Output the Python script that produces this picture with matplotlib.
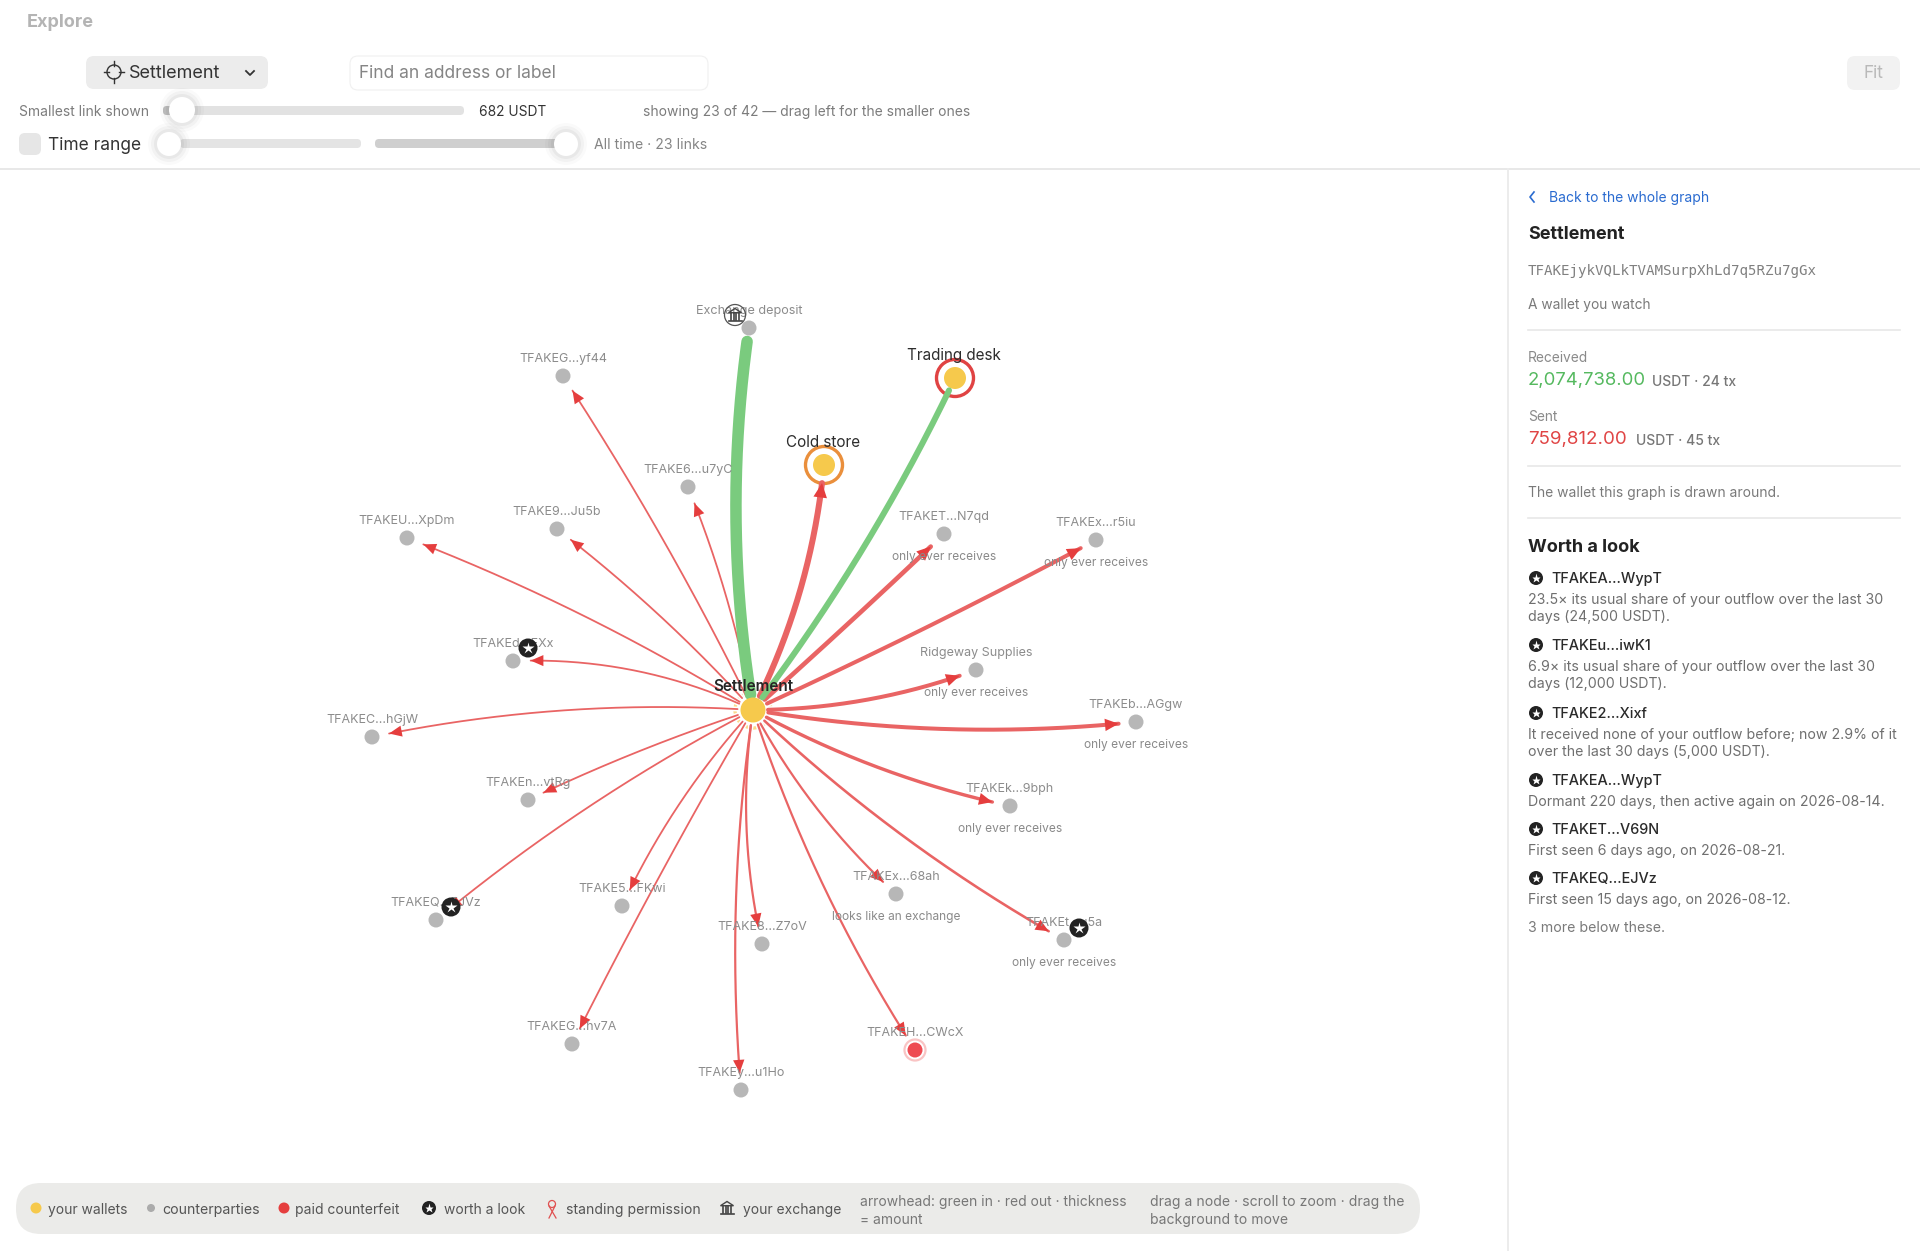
import numpy as np
import matplotlib
matplotlib.use("Agg")
import matplotlib.pyplot as plt
from matplotlib.patches import Circle, FancyBboxPatch, Polygon

plt.rcParams["font.family"] = ["Inter", "DejaVu Sans"]

# Graph data, positions in screen pixels
center = (753, 710)
node_names = ["TFAKEG...yf44", "TFAKE6...u7yC", "TFAKE9...Ju5b", "TFAKEU...XpDm", "TFAKET...N7qd",
              "TFAKEx...r5iu", "TFAKEd...EXx", "Ridgeway Supplies", "TFAKEb...AGgw", "TFAKEC...hGjW",
              "TFAKEn...vtRg", "TFAKEk...9bph", "TFAKEx...68ah", "TFAKEQ...EJVz", "TFAKE5...FKwi",
              "TFAKEt...u5a", "TFAKE8...Z7oV", "TFAKEG...hv7A", "TFAKEH...CWcX", "TFAKEy...u1Ho"]
node_x = [563, 688, 557, 407, 944, 1096, 513, 976, 1136, 372, 528, 1010, 896, 436, 622, 1064, 762, 572, 915, 741]
node_y = [376, 487, 529, 538, 534, 540, 661, 670, 722, 737, 800, 806, 894, 920, 906, 940, 944, 1044, 1050, 1090]
link_width = [1.8, 1.8, 1.8, 1.8, 4.6, 4.0, 1.8, 4.0, 4.0, 1.8, 1.8, 3.4, 2.2, 1.8, 1.8, 2.6, 2.2, 1.8, 2.2, 2.2]
link_sag = [-6, -6, -6, -9, -1, -3, -15, -10, -13, -13, -4, -10, -10, -10, -9, -12, -11, -3, -12, -11]
sub_labels = {"TFAKET...N7qd": "only ever receives", "TFAKEx...r5iu": "only ever receives",
              "Ridgeway Supplies": "only ever receives", "TFAKEb...AGgw": "only ever receives",
              "TFAKEk...9bph": "only ever receives", "TFAKEt...u5a": "only ever receives",
              "TFAKEx...68ah": "looks like an exchange"}
star_nodes = [(528, 648), (451, 907), (1079, 928)]

exchange_node = (749, 328)
trading_desk = (955, 378)
cold_store = (824, 465)

RED = "#e53e3e"
LINE_RED = "#e96464"
GREEN = "#7acb7e"
GREY = "#b7b7b7"
YELLOW = "#f6c94c"
LABEL = "#8c8c8c"

fig = plt.figure(figsize=(19.2, 12.51), dpi=100)
ax = fig.add_axes([0, 0, 1, 1])
ax.set_xlim(0, 1920)
ax.set_ylim(1251, 0)
ax.axis("off")


def txt(x, y, s, size=9.5, color="#333333", ha="left", weight="normal", z=6, **kw):
    ax.text(x, y + 1.8, s, fontsize=size, color=color, ha=ha, va="center", fontweight=weight, zorder=z, **kw)


def box(x0, y0, x1, y1, r, fc, ec="none", z=2):
    ax.add_patch(FancyBboxPatch((x0, y0), x1 - x0, y1 - y0, boxstyle=f"round,pad=0,rounding_size={r}",
                                fc=fc, ec=ec, lw=0.8, zorder=z))


def thumb(x, y, r=13):
    for k, a in zip([9, 6, 3], [0.02, 0.03, 0.04]):
        ax.add_patch(Circle((x, y), r + k, fc="#000000", ec="none", alpha=a, zorder=3))
    ax.add_patch(Circle((x, y), r, fc="white", ec="none", zorder=4))


def bank_icon(x, y, s, color="#444444", z=7):
    ax.add_patch(Polygon([(x - s, y - 0.35 * s), (x, y - s), (x + s, y - 0.35 * s)], closed=True,
                         fc="none", ec=color, lw=1.0, zorder=z))
    for dx in [-0.65, -0.22, 0.22, 0.65]:
        ax.plot([x + dx * s] * 2, [y - 0.25 * s, y + 0.7 * s], color=color, lw=1.2, zorder=z)
    ax.plot([x - s, x + s], [y + 0.9 * s] * 2, color=color, lw=1.2, zorder=z)


def star_badge(x, y, r=9.5, z=8):
    ax.add_patch(Circle((x, y), r, fc="#222222", ec="none", zorder=z))
    ax.plot([x], [y], marker="*", ms=r * 0.95, color="white", mec="none", zorder=z + 0.5)


def draw_link(a, b, sag, width, color, head=True, z=3.5):
    a = np.array(a, float)
    b = np.array(b, float)
    d = b - a
    L = np.hypot(*d)
    normal = np.array([d[1], -d[0]]) / L
    ctrl = (a + b) / 2 + 2 * sag * normal
    t = np.linspace(0, 1, 200)[:, None]
    pts = (1 - t) ** 2 * a + 2 * t * (1 - t) * ctrl + t ** 2 * b
    da = np.hypot(*(pts - a).T)
    db = np.hypot(*(pts - b).T)
    gap = 17 if head else 13
    pts = pts[(da > 15) & (db > gap)]
    # white cut through the ring round the centre node
    ax.plot(pts[:6, 0], pts[:6, 1], color="white", lw=(width + 3) * 0.72, zorder=3.2, solid_capstyle="butt")
    ax.plot(pts[:, 0], pts[:, 1], color=color, lw=width * 0.72, zorder=z, solid_capstyle="round")
    if head:
        tip = pts[-1]
        u = (pts[-1] - pts[-6]) / np.hypot(*(pts[-1] - pts[-6]))
        n = np.array([-u[1], u[0]])
        hl = 12 + 0.4 * width
        hw = 5 + 0.3 * width
        ax.add_patch(Polygon([tip, tip - hl * u + hw * n, tip - hl * u - hw * n], closed=True,
                             fc=RED, ec="none", zorder=z + 0.2))


# ---------------------- Top bar --------------------------
ax.plot([0, 1920], [169, 169], color="#e8e8e8", lw=1.4, zorder=1)
ax.plot([1508, 1508], [169, 1251], color="#ececec", lw=1.4, zorder=1)

txt(27, 21, "Explore", 13, "#b4b4b4", weight="bold")
box(86, 56, 268, 89, 8, "#ececec")
ax.add_patch(Circle((114, 72), 7, fc="none", ec="#333333", lw=1.0, zorder=5))
for tick in [(61, 66), (78, 83)]:
    ax.plot([114, 114], tick, color="#333333", lw=1.0, zorder=5)
for tick in [(104, 109), (119, 124)]:
    ax.plot(tick, [72, 72], color="#333333", lw=1.0, zorder=5)
txt(129, 72, "Settlement", 13)
ax.plot([246, 250, 254], [71, 75, 71], color="#333333", lw=1.3, zorder=5)
box(350, 56, 708, 90, 8, "white", "#f0f0f0")
txt(359, 72, "Find an address or label", 12.5, "#858585")
box(1847, 56, 1900, 90, 8, "#f2f2f2")
txt(1873, 72, "Fit", 12.5, "#b9b9b9", ha="center")

txt(19, 110, "Smallest link shown", 10, "#7c7c7c")
box(163, 106, 464, 115, 4, "#e2e2e2")
box(163, 106, 178, 115, 4, "#c4c4c4")
thumb(182, 110)
txt(479, 110, "682 USDT", 9.9, "#333333")
txt(643, 110, "showing 23 of 42 \u2014 drag left for the smaller ones", 10, "#7c7c7c")

box(19, 133, 41, 155, 6, "#e6e6e6")
txt(48, 144, "Time range", 12.5, "#333333")
box(180, 139, 361, 148, 4, "#e4e4e4")
box(375, 139, 560, 148, 4, "#cfcfcf")
thumb(169, 144, 12)
thumb(566, 144, 12)
txt(594, 143, "All time \u00b7 23 links", 10.1, "#858585")

# ---------------------- Graph --------------------------
ax.add_patch(Circle(center, 18, fc="none", ec="#fad98c", lw=2.4, zorder=3))

for i in range(len(node_names)):
    draw_link(center, (node_x[i], node_y[i]), link_sag[i], link_width[i], LINE_RED)
draw_link(center, exchange_node, 15, 11.5, GREEN, head=False)
draw_link(center, cold_store, -12, 6, LINE_RED, z=4.5)

for i, name in enumerate(node_names):
    x, y = node_x[i], node_y[i]
    if name == "TFAKEH...CWcX":
        ax.add_patch(Circle((x, y), 10.5, fc="white", ec="#f9c4c4", lw=1.6, zorder=4))
        ax.add_patch(Circle((x, y), 7.5, fc="#ee4b52", ec="none", zorder=5))
    else:
        ax.add_patch(Circle((x, y), 7.5, fc=GREY, ec="none", zorder=4))
    txt(x, y - 19, name, 9.0, LABEL, ha="center")
    if name in sub_labels:
        txt(x, y + 21, sub_labels[name], 8.6, "#8a8a8a", ha="center")

ax.add_patch(Circle(exchange_node, 7.5, fc=GREY, ec="none", zorder=4))
txt(exchange_node[0], exchange_node[1] - 19, "Exchange deposit", 9.1, LABEL, ha="center")
ax.add_patch(Circle((735, 315), 10.5, fc="none", ec="#555555", lw=0.9, zorder=7))
bank_icon(735, 315, 6.5)

for (x, y), ring in [(trading_desk, "#e04343"), (cold_store, "#ea8f3c")]:
    ax.add_patch(Circle((x, y), 18.5, fc="white", ec=ring, lw=2.4, zorder=3.9))
    ax.add_patch(Circle((x, y), 11, fc=YELLOW, ec="none", zorder=4))
draw_link(center, trading_desk, -10, 6, GREEN, head=False, z=4.5)
txt(954, 354, "Trading desk", 11, "#2d2d2d", ha="center")
txt(823, 441, "Cold store", 11, "#2d2d2d", ha="center")

ax.add_patch(Circle(center, 12.5, fc=YELLOW, ec="none", zorder=5))
txt(753, 685, "Settlement", 11, "#262626", ha="center", weight="semibold")

for x, y in star_nodes:
    star_badge(x, y)

# ---------------------- Legend pill --------------------------
box(16, 1183, 1420, 1234, 25, "#ebebe9")
ax.add_patch(Circle((36, 1208), 5.5, fc=YELLOW, ec="none", zorder=5))
txt(48, 1208, "your wallets", 10, "#555555")
ax.add_patch(Circle((151, 1208), 4, fc="#ababab", ec="none", zorder=5))
txt(162, 1208, "counterparties", 10.2, "#555555")
ax.add_patch(Circle((284, 1208), 5.5, fc="#e53e3e", ec="none", zorder=5))
txt(295, 1208, "paid counterfeit", 10, "#555555")
star_badge(429, 1208, 7)
txt(444, 1208, "worth a look", 10, "#555555")
ax.add_patch(Circle((552, 1204), 3.5, fc="none", ec="#e05050", lw=0.9, zorder=5))
ax.plot([549, 556], [1206, 1218], color="#e05050", lw=0.9, zorder=5)
ax.plot([555, 549], [1206, 1218], color="#e05050", lw=0.9, zorder=5)
txt(566, 1208, "standing permission", 10.1, "#555555")
bank_icon(727, 1208, 6.5)
txt(743, 1208, "your exchange", 10, "#555555")
txt(860, 1200, "arrowhead: green in \u00b7 red out \u00b7 thickness", 10, "#777777")
txt(860, 1218, "= amount", 10, "#777777")
txt(1150, 1200, "drag a node \u00b7 scroll to zoom \u00b7 drag the", 10.1, "#777777")
txt(1150, 1218, "background to move", 10.1, "#777777")

# ---------------------- Side panel --------------------------
ax.plot([1534, 1530, 1534], [192, 197, 202], color="#2a6bd0", lw=1.2, zorder=5)
txt(1549, 196, "Back to the whole graph", 10, "#2a6bd0")
txt(1528, 233, "Settlement", 13, "#222222", weight="bold")
txt(1528, 269, "TFAKEjykVQLkTVAMSurpXhLd7q5RZu7gGx", 10.2, "#808080", family="DejaVu Sans Mono")
txt(1528, 303, "A wallet you watch", 9.9, "#7a7a7a")
ax.plot([1528, 1900], [330, 330], color="#e8e8e8", lw=1.2)
txt(1528, 356, "Received", 9.9, "#8a8a8a")
txt(1528, 379, "2,074,738.00", 13.3, "#55b95f")
txt(1652, 380, "USDT \u00b7 24 tx", 10, "#777777", weight="medium")
txt(1528, 415, "Sent", 9.9, "#8a8a8a")
txt(1528, 438, "759,812.00", 13.5, "#e04545")
txt(1636, 439, "USDT \u00b7 45 tx", 10, "#777777", weight="medium")
ax.plot([1528, 1900], [466, 466], color="#e8e8e8", lw=1.2)
txt(1528, 491, "The wallet this graph is drawn around.", 10, "#7a7a7a")
ax.plot([1528, 1900], [518, 518], color="#e8e8e8", lw=1.2)
txt(1528, 546, "Worth a look", 13, "#222222", weight="bold")

flag_names = ["TFAKEA...WypT", "TFAKEu...iwK1", "TFAKE2...Xixf", "TFAKEA...WypT", "TFAKET...V69N", "TFAKEQ...EJVz"]
flag_y = [577, 644, 712, 779, 828, 877]
flag_notes = [["23.5\u00d7 its usual share of your outflow over the last 30", "days (24,500 USDT)."],
              ["6.9\u00d7 its usual share of your outflow over the last 30", "days (12,000 USDT)."],
              ["It received none of your outflow before; now 2.9% of it", "over the last 30 days (5,000 USDT)."],
              ["Dormant 220 days, then active again on 2026-08-14."],
              ["First seen 6 days ago, on 2026-08-21."],
              ["First seen 15 days ago, on 2026-08-12."]]
for name, y, notes in zip(flag_names, flag_y, flag_notes):
    star_badge(1536, y + 1, 7)
    txt(1551, y, name, 10.4, "#2a2a2a", weight="medium")
    for k, line in enumerate(notes):
        txt(1528, y + 21 + k * 17, line, 10.2, "#6f6f6f")
txt(1528, 926, "3 more below these.", 10.2, "#7a7a7a")

fig.savefig("out.png", dpi=100, facecolor="white")
